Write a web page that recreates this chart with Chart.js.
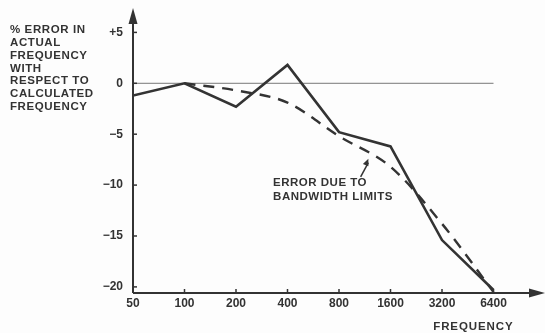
<!DOCTYPE html>
<html>
<head>
<meta charset="utf-8">
<script src="https://cdn.jsdelivr.net/npm/chart.js@4"></script>
<style>
  html, body { margin: 0; padding: 0; background: #fdfdfd; }
  #wrap { width: 545px; height: 333px; }
</style>
</head>
<body>
<div id="wrap"><canvas id="chart"></canvas></div>
<script>
const freqLabels = ['50', '100', '200', '400', '800', '1600', '3200', '6400'];
const actualError = [-1.2, 0, -2.3, 1.8, -4.8, -6.2, -15.4, -20.3];
const bandwidthError = [null, 0, -0.7, -1.9, -5.2, -8.2, -13.8, -20.5];
const yTickValues = [5, 0, -5, -10, -15, -20];
const yAxisTitle = ['% ERROR IN', 'ACTUAL', 'FREQUENCY', 'WITH', 'RESPECT TO', 'CALCULATED', 'FREQUENCY'];
const noteLines = ['ERROR DUE TO', 'BANDWIDTH LIMITS'];
const xAxisTitle = 'FREQUENCY';

const ink = '#333333';
const fontFamily = '"Liberation Sans", Arial, Helvetica, sans-serif';

const toPoints = (arr) => arr.map((v, i) => ({ x: i, y: v })).filter(p => p.y !== null);

function arrowHead(ctx, x, y, dx, dy, len, half) {
  const n = Math.hypot(dx, dy);
  const ux = dx / n, uy = dy / n;
  ctx.beginPath();
  ctx.moveTo(x, y);
  ctx.lineTo(x - ux * len - uy * half, y - uy * len + ux * half);
  ctx.lineTo(x - ux * len + uy * half, y - uy * len - ux * half);
  ctx.closePath();
  ctx.fill();
}

const decorations = {
  id: 'decorations',
  beforeDatasetsDraw(chart) {
    const { ctx } = chart;
    const xs = chart.scales.x, ys = chart.scales.y;
    ctx.save();
    // zero reference line
    ctx.strokeStyle = '#777';
    ctx.lineWidth = 1;
    ctx.beginPath();
    ctx.moveTo(xs.getPixelForValue(0), ys.getPixelForValue(0));
    ctx.lineTo(xs.getPixelForValue(freqLabels.length - 1), ys.getPixelForValue(0));
    ctx.stroke();
    ctx.restore();
  },
  afterDraw(chart) {
    const { ctx, chartArea } = chart;
    const xs = chart.scales.x, ys = chart.scales.y;
    const x0 = xs.getPixelForValue(0);
    const yBottom = chartArea.bottom;
    ctx.save();
    ctx.strokeStyle = ink;
    ctx.fillStyle = ink;
    ctx.lineWidth = 2;
    // y axis with arrow
    ctx.beginPath();
    ctx.moveTo(x0, yBottom);
    ctx.lineTo(x0, chartArea.top + 10);
    ctx.stroke();
    arrowHead(ctx, x0, chartArea.top - 2, 0, -1, 16, 4.5);
    // x axis with arrow
    ctx.beginPath();
    ctx.moveTo(x0, yBottom);
    ctx.lineTo(chartArea.right - 10, yBottom);
    ctx.stroke();
    arrowHead(ctx, chartArea.right, yBottom, 1, 0, 16, 4.5);
    // tick marks
    ctx.lineWidth = 1.5;
    freqLabels.forEach((_, i) => {
      const px = xs.getPixelForValue(i);
      ctx.beginPath();
      ctx.moveTo(px, yBottom);
      ctx.lineTo(px, yBottom - 4);
      ctx.stroke();
    });
    yTickValues.forEach(v => {
      const py = ys.getPixelForValue(v);
      ctx.beginPath();
      ctx.moveTo(x0, py);
      ctx.lineTo(x0 + 4, py);
      ctx.stroke();
    });

    // left title
    ctx.font = 'bold 11.5px ' + fontFamily;
    ctx.letterSpacing = '0.6px';
    ctx.textBaseline = 'middle';
    ctx.textAlign = 'left';
    yAxisTitle.forEach((line, i) => ctx.fillText(line, 10, 30 + i * 12.8));

    // x axis title
    ctx.letterSpacing = '0.9px';
    ctx.fillText(xAxisTitle, xs.getPixelForValue(5.83), 327);

    // annotation with arrow
    ctx.letterSpacing = '0.5px';
    const nx = xs.getPixelForValue(2.72);
    noteLines.forEach((line, i) => ctx.fillText(line, nx, ys.getPixelForValue(-9.8 - i * 1.38)));
    ctx.lineWidth = 1.5;
    const ax1 = xs.getPixelForValue(4.42), ay1 = ys.getPixelForValue(-9.2);
    const ax2 = xs.getPixelForValue(4.57), ay2 = ys.getPixelForValue(-7.4);
    ctx.beginPath();
    ctx.moveTo(ax1, ay1);
    ctx.lineTo(ax2, ay2 + 4);
    ctx.stroke();
    arrowHead(ctx, ax2, ay2, ax2 - ax1, ay2 - ay1, 7, 3);
    ctx.restore();
  }
};

new Chart(document.getElementById('chart'), {
  type: 'line',
  data: {
    datasets: [
      {
        label: 'Actual',
        data: toPoints(actualError),
        borderColor: ink,
        borderWidth: 2.6,
        pointRadius: 0,
        tension: 0
      },
      {
        label: 'Bandwidth limits',
        data: toPoints(bandwidthError),
        borderColor: ink,
        borderWidth: 2.4,
        borderDash: [11, 8],
        pointRadius: 0,
        cubicInterpolationMode: 'monotone'
      }
    ]
  },
  options: {
    responsive: true,
    maintainAspectRatio: false,
    animation: false,
    layout: { padding: { top: 10, right: 0, left: 0, bottom: 0 } },
    plugins: { legend: { display: false }, tooltip: { enabled: false } },
    scales: {
      x: {
        type: 'linear',
        min: 0,
        max: 8.0,
        afterFit: (s) => { s.height = 40; s.paddingLeft = 0; s.paddingRight = 0; },
        grid: { display: false, drawTicks: false },
        border: { display: false },
        ticks: {
          stepSize: 1,
          includeBounds: false,
          autoSkip: false,
          maxRotation: 0,
          padding: 3,
          color: ink,
          font: { family: fontFamily, size: 12, weight: 'bold' },
          callback: (v) => freqLabels[v] || ''
        }
      },
      y: {
        min: -20.6,
        max: 7.2,
        afterFit: (s) => { s.width = 133; s.paddingTop = 0; s.paddingBottom = 0; },
        grid: { display: false, drawTicks: false },
        border: { display: false },
        ticks: {
          stepSize: 5,
          includeBounds: false,
          padding: 10,
          color: ink,
          font: { family: fontFamily, size: 12, weight: 'bold' },
          callback: (v) => v > 0 ? '+' + v : (v < 0 ? '\u2212' + Math.abs(v) : String(v))
        }
      }
    }
  },
  plugins: [decorations]
});
</script>
</body>
</html>
